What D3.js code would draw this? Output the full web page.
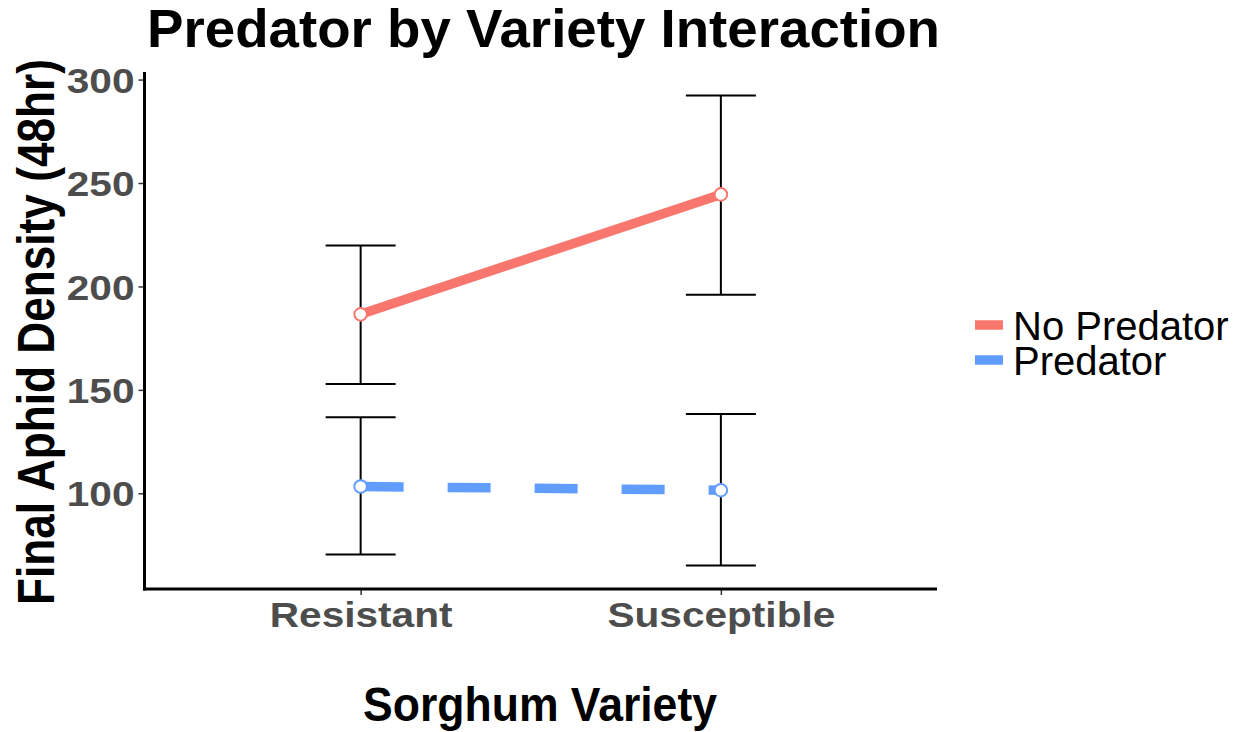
<!DOCTYPE html>
<html>
<head>
<meta charset="utf-8">
<script src="https://cdn.jsdelivr.net/npm/d3@7"></script>
<style>
  html, body { margin: 0; padding: 0; background: #fff; }
  text { font-family: "Liberation Sans", Arial, Helvetica, sans-serif; }
</style>
</head>
<body>
<svg id="chart" width="1243" height="732"></svg>
<script>
// ---- data ----
const varieties = ["Resistant", "Susceptible"];
const groups = ["No Predator", "Predator"];
const colors = ["#F8766D", "#619CFF"];
const noPredMean = [186.5, 244.5];
const noPredLow  = [152.8, 196.0];
const noPredHigh = [219.8, 292.3];
const predMean   = [103.3, 101.5];
const predLow    = [70.4, 65.1];
const predHigh   = [136.8, 138.3];
const yTicks = [100, 150, 200, 250, 300];

const series = [
  { name: groups[0], color: colors[0], mean: noPredMean, low: noPredLow, high: noPredHigh, dash: null },
  { name: groups[1], color: colors[1], mean: predMean, low: predLow, high: predHigh, dash: "43,44" }
];

const svg = d3.select("#chart");
const panel = { left: 144.5, right: 937, top: 72, bottom: 589 };

// fit text width by stretching glyphs
function fitWidth(sel, factor) {
  sel.each(function () {
    const w = this.getComputedTextLength();
    d3.select(this).attr("textLength", w * factor).attr("lengthAdjust", "spacingAndGlyphs");
  });
}

// scales
const allVals = [].concat(noPredLow, noPredHigh, predLow, predHigh);
const yMin = d3.min(allVals), yMax = d3.max(allVals);
const pad = (yMax - yMin) * 0.05;
const y = d3.scaleLinear().domain([yMin - pad, yMax + pad]).range([panel.bottom, panel.top]);
const x = d3.scalePoint().domain(varieties).range([panel.left, panel.right]).padding(0.6);

// axes
const yAxis = svg.append("g").attr("transform", `translate(${panel.left},0)`)
  .call(d3.axisLeft(y).tickValues(yTicks).tickSize(6).tickPadding(4));
yAxis.select(".domain").remove();
yAxis.selectAll(".tick line").attr("stroke", "#333").attr("stroke-width", 1.5);
yAxis.selectAll(".tick text").attr("fill", "#4D4D4D").attr("font-size", 35).attr("font-weight", "bold")
  .attr("dy", "0.36em").attr("x", -10).style("font-family", "'Liberation Sans', Arial, sans-serif");
fitWidth(yAxis.selectAll(".tick text"), 1.16);

const xAxis = svg.append("g").attr("transform", `translate(0,${panel.bottom})`)
  .call(d3.axisBottom(x).tickSize(6).tickPadding(4));
xAxis.select(".domain").remove();
xAxis.selectAll(".tick line").attr("stroke", "#333").attr("stroke-width", 1.5);
xAxis.selectAll(".tick text").attr("fill", "#4D4D4D").attr("font-size", 35).attr("font-weight", "bold")
  .attr("dy", null).attr("y", 37.5).style("font-family", "'Liberation Sans', Arial, sans-serif");
fitWidth(xAxis.selectAll(".tick text"), 1.16);

// axis lines
svg.append("line").attr("x1", panel.left).attr("x2", panel.left).attr("y1", panel.top).attr("y2", panel.bottom + 1.5)
  .attr("stroke", "#000").attr("stroke-width", 3);
svg.append("line").attr("x1", panel.left - 1.5).attr("x2", panel.right).attr("y1", panel.bottom).attr("y2", panel.bottom)
  .attr("stroke", "#000").attr("stroke-width", 3);

// error bars
const whisk = 35;
series.forEach(s => {
  const g = svg.append("g");
  varieties.forEach((v, i) => {
    const cx = x(v);
    g.append("line").attr("x1", cx).attr("x2", cx).attr("y1", y(s.low[i])).attr("y2", y(s.high[i]))
      .attr("stroke", "#000").attr("stroke-width", 2);
    g.append("line").attr("x1", cx - whisk).attr("x2", cx + whisk).attr("y1", y(s.low[i])).attr("y2", y(s.low[i]))
      .attr("stroke", "#000").attr("stroke-width", 2);
    g.append("line").attr("x1", cx - whisk).attr("x2", cx + whisk).attr("y1", y(s.high[i])).attr("y2", y(s.high[i]))
      .attr("stroke", "#000").attr("stroke-width", 2);
  });
});

// lines
const line = d3.line().x((d, i) => x(varieties[i])).y(d => y(d));
series.forEach(s => {
  svg.append("path").attr("d", line(s.mean)).attr("fill", "none")
    .attr("stroke", s.color).attr("stroke-width", 9.5)
    .attr("stroke-dasharray", s.dash);
});

// points
series.forEach(s => {
  svg.append("g").selectAll("circle").data(s.mean).join("circle")
    .attr("cx", (d, i) => x(varieties[i])).attr("cy", d => y(d)).attr("r", 6.3)
    .attr("fill", "#fff").attr("stroke", s.color).attr("stroke-width", 2);
});

// title
const title = svg.append("text").attr("x", 147).attr("y", 47)
  .attr("font-size", 53).attr("font-weight", "bold").attr("fill", "#000")
  .text("Predator by Variety Interaction");
title.attr("textLength", 793).attr("lengthAdjust", "spacingAndGlyphs");

// axis titles
const xt = svg.append("text").attr("x", 540).attr("y", 721).attr("text-anchor", "middle")
  .attr("font-size", 48).attr("font-weight", "bold").attr("fill", "#000").text("Sorghum Variety");
xt.attr("textLength", 354).attr("lengthAdjust", "spacingAndGlyphs");

const yt = svg.append("text").attr("transform", "translate(54,332) rotate(-90)").attr("text-anchor", "middle")
  .attr("font-size", 51).attr("font-weight", "bold").attr("fill", "#000").text("Final Aphid Density (48hr)");
yt.attr("textLength", 546).attr("lengthAdjust", "spacingAndGlyphs");

// legend
const leg = svg.append("g");
series.forEach((s, i) => {
  const cy = 325 + i * 35;
  leg.append("line").attr("x1", 975).attr("x2", 1003).attr("y1", cy).attr("y2", cy)
    .attr("stroke", s.color).attr("stroke-width", 9.5);
  leg.append("text").attr("x", 1013).attr("y", cy + 15).attr("font-size", 40).attr("fill", "#000").text(s.name);
});
</script>
</body>
</html>
